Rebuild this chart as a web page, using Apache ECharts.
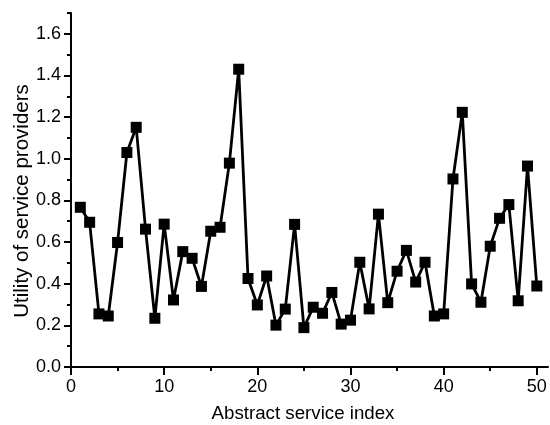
<!DOCTYPE html>
<html>
<head>
<meta charset="utf-8">
<script src="https://cdn.jsdelivr.net/npm/echarts@6/dist/echarts.min.js"></script>
<style>html,body{margin:0;padding:0;background:#fff}#c{width:550px;height:425px}</style>
</head>
<body>
<div id="c"></div>
<script>
var serviceIndex = [1,2,3,4,5,6,7,8,9,10,11,12,13,14,15,16,17,18,19,20,21,22,23,24,25,26,27,28,29,30,31,32,33,34,35,36,37,38,39,40,41,42,43,44,45,46,47,48,49,50];
var utility = [0.767,0.695,0.255,0.245,0.598,1.03,1.151,0.662,0.234,0.686,0.322,0.554,0.522,0.387,0.652,0.671,0.979,1.43,0.425,0.298,0.437,0.201,0.278,0.685,0.189,0.287,0.258,0.358,0.206,0.225,0.503,0.279,0.734,0.309,0.46,0.56,0.408,0.503,0.245,0.255,0.903,1.223,0.399,0.311,0.58,0.714,0.78,0.318,0.965,0.389];
var xMajorTicks = [0,10,20,30,40,50];
var xMinorTicks = [5,15,25,35,45];
var yMajorTicks = [0,0.2,0.4,0.6,0.8,1.0,1.2,1.4,1.6];
var yMinorTicks = [0.1,0.3,0.5,0.7,0.9,1.1,1.3,1.5,1.7];
var xTitle = 'Abstract service index';
var yTitle = 'Utility of service providers';

var FONT = 'Liberation Sans, Arial, sans-serif';
var chart = echarts.init(document.getElementById('c'));
var pts = serviceIndex.map(function(x,i){return [x, utility[i]];});
var axisCommon = {
  type: 'value', min: 0, splitLine: {show: false}
};
chart.setOption({
  animation: false,
  backgroundColor: '#fff',
  grid: {left: 71, right: 2, top: 13, bottom: 58},
  xAxis: [
    Object.assign({}, axisCommon, {
      max: 51.2,
      axisLine: {show: true, lineStyle: {color: '#000', width: 2}},
      axisTick: {show: true, length: 8, lineStyle: {color: '#000', width: 2}, customValues: xMajorTicks},
      axisLabel: {show: true, color: '#000', fontSize: 18, fontFamily: FONT, margin: 11, customValues: xMajorTicks}
    }),
    Object.assign({}, axisCommon, {
      max: 51.2, position: 'bottom',
      axisLine: {show: false},
      axisTick: {show: true, length: 4, lineStyle: {color: '#000', width: 2}, customValues: xMinorTicks},
      axisLabel: {show: false}
    })
  ],
  yAxis: [
    Object.assign({}, axisCommon, {
      max: 1.7,
      axisLine: {show: true, lineStyle: {color: '#000', width: 2}},
      axisTick: {show: true, length: 7, lineStyle: {color: '#000', width: 2}, customValues: yMajorTicks},
      axisLabel: {show: true, color: '#000', fontSize: 18, fontFamily: FONT, margin: 10, customValues: yMajorTicks,
        formatter: function(v){return v.toFixed(1);}}
    }),
    Object.assign({}, axisCommon, {
      max: 1.7, position: 'left',
      axisLine: {show: false},
      axisTick: {show: true, length: 4, lineStyle: {color: '#000', width: 2}, customValues: yMinorTicks},
      axisLabel: {show: false}
    })
  ],
  graphic: [
    {type: 'text', x: 303, y: 414, style: {text: xTitle, fontSize: 18.7, fontFamily: FONT, fill: '#000', align: 'center', verticalAlign: 'middle'}},
    {type: 'text', x: 22, y: 201, rotation: Math.PI/2, style: {text: yTitle, fontSize: 20.5, fontFamily: FONT, fill: '#000', align: 'center', verticalAlign: 'middle'}}
  ],
  series: [{
    type: 'line',
    data: pts,
    symbol: 'rect',
    symbolSize: 11,
    showAllSymbol: true,
    lineStyle: {color: '#000', width: 2.8},
    itemStyle: {color: '#000'},
    z: 3
  }]
});
</script>
</body>
</html>
